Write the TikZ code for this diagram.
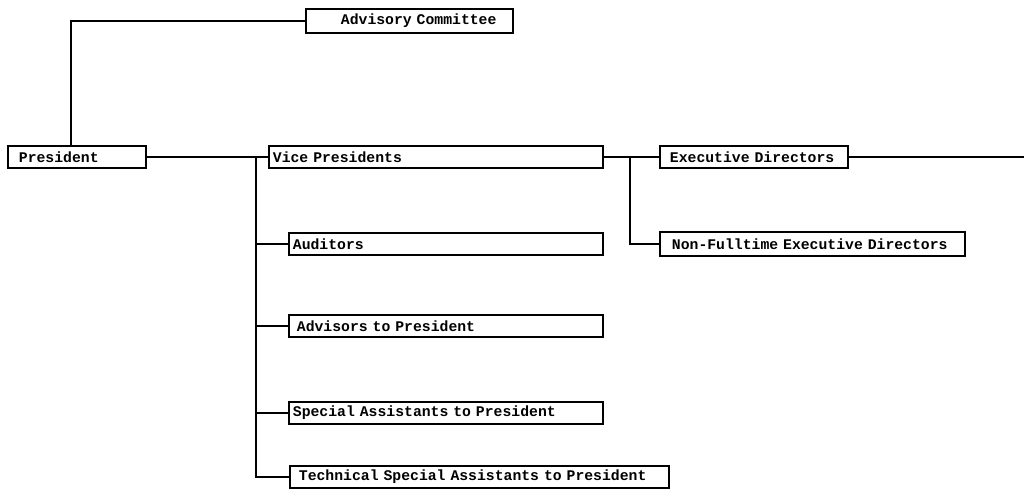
\documentclass[tikz,border=0pt]{standalone}
\usepackage{fontspec}
\setmonofont{Liberation Mono}
\usetikzlibrary{positioning}

\newcommand{\orgfont}{\ttfamily\bfseries\fontsize{10.5}{12}\selectfont}

\begin{document}
\begin{tikzpicture}[
    x=0.025cm, y=-0.025cm,
    orgbox/.style={draw, line width=1.3pt, anchor=west, inner xsep=0.1cm, inner ysep=0pt,
        minimum height=0.55cm, text width=#1, align=left, font=\orgfont},
    link/.style={line width=1.3pt}
]
\useasboundingbox (0,0) rectangle (1024,495);

% boxes
\node[orgbox=4.975cm, minimum height=0.6cm] (adv) at (305,21) {\hspace*{0.775cm}Advisory Committee};
\node[orgbox=3.25cm] (pres) at (7,157) {\hspace*{0.175cm}President};
\node[orgbox=8.15cm] (vp) at (268,157) {Vice Presidents};
\node[orgbox=7.65cm] (aud) at (288,244) {Auditors};
\node[orgbox=7.65cm] (advp) at (288,326) {\hspace*{0.1cm}Advisors to President};
\node[orgbox=7.65cm] (spa) at (288,413) {Special Assistants to President};
\node[orgbox=9.275cm] (tspa) at (289,477) {\hspace*{0.125cm}Technical Special Assistants to President};
\node[orgbox=4.5cm] (ed) at (659,157) {\hspace*{0.15cm}Executive Directors};
\node[orgbox=7.425cm, minimum height=0.6cm] (nfed) at (659,244) {\hspace*{0.2cm}Non-Fulltime Executive Directors};

% junctions
\coordinate (j1) at (256,157);
\coordinate (j2) at (630,157);
\coordinate (edge) at (1024,157);

% connectors
\draw[link] ([xshift=-0.15cm]pres.north) |- (adv.west);
\draw[link] (pres.east) -- (vp.west);
\draw[link] (j1) |- (aud.west);
\draw[link] (j1) |- (advp.west);
\draw[link] (j1) |- (spa.west);
\draw[link] (j1) |- (tspa.west);
\draw[link] (vp.east) -- (ed.west);
\draw[link] (j2) |- (nfed.west);
\draw[link] (ed.east) -- (edge);
\end{tikzpicture}
\end{document}
